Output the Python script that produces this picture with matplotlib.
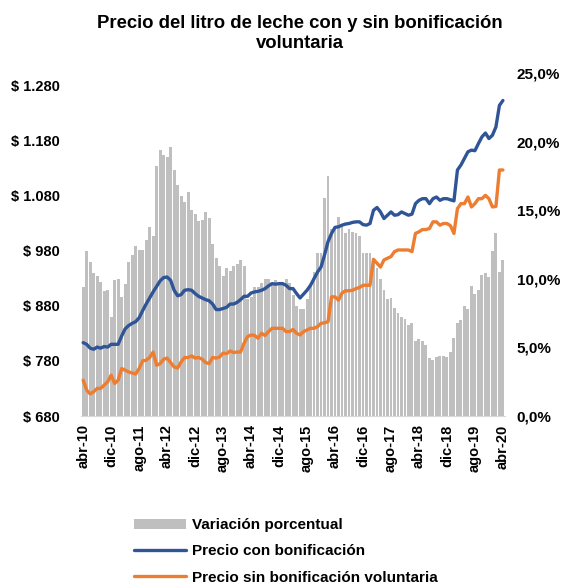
import numpy as np
import matplotlib.pyplot as plt

plt.rcParams['font.family'] = ['Liberation Sans', 'DejaVu Sans']

# monthly series, abr-10 .. abr-20
variacion = [
    9.4, 12.0, 11.2, 10.4, 10.2, 9.8, 9.1, 9.2, 7.2, 9.9,
    10.0, 8.7, 9.6, 11.2, 11.7, 12.4, 12.1, 12.1, 12.8, 13.8,
    13.1, 18.2, 19.4, 19.0, 18.9, 19.6, 17.9, 16.8, 16.0, 15.6,
    16.3, 15.0, 14.7, 14.2, 14.3, 14.9, 14.4, 12.5, 11.5, 10.9,
    10.2, 10.8, 10.6, 10.9, 11.1, 11.4, 10.9, 8.5, 8.7, 9.4,
    9.4, 9.7, 10.0, 10.0, 9.7, 9.9, 9.8, 9.7, 10.0, 9.7,
    8.8, 8.0, 7.8, 7.8, 8.5, 9.5, 10.5, 11.9, 11.9, 15.9,
    17.5, 13.6, 13.8, 14.5, 14.0, 13.3, 13.6, 13.4, 13.3, 13.1,
    11.9, 11.9, 11.9, 11.4, 10.8, 10.0, 9.2, 8.5, 8.6, 7.9,
    7.5, 7.2, 7.1, 6.6, 6.8, 5.5, 5.6, 5.5, 5.2, 4.2,
    4.1, 4.3, 4.4, 4.4, 4.3, 4.7, 5.7, 6.8, 7.0, 8.0,
    7.8, 9.5, 8.9, 9.2, 10.3, 10.4, 10.1, 12.0, 13.3, 10.5,
    11.4,
]

con_bonif = [
    813, 810, 803, 801, 805, 803, 806, 805, 810, 810,
    810, 825, 838, 844, 848, 851, 858, 871, 883, 894,
    905, 915, 925, 931, 932, 926, 908, 898, 900, 908,
    909, 908, 902, 897, 894, 891, 889, 883, 873, 873,
    875, 877, 883, 883, 886, 891, 897, 897, 903, 905,
    906, 908, 911, 916, 920, 919, 920, 920, 917, 911,
    911, 902, 894, 901, 908, 917, 929, 941, 950, 972,
    996, 1011, 1022, 1023, 1026, 1028, 1029, 1031, 1032, 1032,
    1027, 1026, 1029, 1053, 1058, 1050, 1038, 1044, 1050, 1044,
    1045, 1050, 1047, 1044, 1046, 1065, 1071, 1074, 1074, 1065,
    1074, 1077, 1071, 1074, 1074, 1072, 1070, 1126, 1135, 1147,
    1159, 1162, 1161, 1174, 1186, 1193, 1183, 1189, 1204, 1243,
    1252,
]

sin_bonif = [
    745, 727, 720, 724, 730, 730, 736, 742, 754, 739,
    745, 766, 763, 760, 758, 756, 766, 780, 781, 786,
    796, 772, 775, 783, 785, 777, 769, 767, 778, 786,
    786, 789, 785, 786, 783, 777, 775, 786, 785, 787,
    794, 793, 798, 795, 796, 796, 812, 824, 827, 826,
    821, 830, 826, 833, 839, 839, 839, 839, 833, 833,
    837, 830, 827, 833, 836, 839, 839, 842, 848, 849,
    851, 896, 896, 890, 903, 907, 907, 908, 911, 913,
    917, 917, 917, 964, 957, 950, 963, 966, 969, 978,
    981, 981, 981, 981, 978, 1011, 1014, 1018, 1018, 1020,
    1032, 1032, 1026, 1029, 1029, 1025, 1011, 1056, 1065, 1065,
    1077, 1059, 1065, 1074, 1074, 1080, 1074, 1059, 1060, 1126,
    1126,
]

tick_labels = ['abr-10', 'dic-10', 'ago-11', 'abr-12', 'dic-12', 'ago-13',
               'abr-14', 'dic-14', 'ago-15', 'abr-16', 'dic-16', 'ago-17',
               'abr-18', 'dic-18', 'ago-19', 'abr-20']
price_ticks = [680, 780, 880, 980, 1080, 1180, 1280]
pct_ticks = [0, 5, 10, 15, 20, 25]

x = np.arange(len(variacion))

fig = plt.figure(figsize=(5.63, 5.88), dpi=100)
ax = fig.add_axes([0.144, 0.2925, 0.753, 0.5835])
ax2 = ax.twinx()

bars = ax2.bar(x, variacion, width=0.84, color='#BFBFBF', label='Variación porcentual')
l1, = ax.plot(x, con_bonif, color='#2F5597', lw=2.4, label='Precio con bonificación',
              solid_capstyle='round')
l2, = ax.plot(x, sin_bonif, color='#ED7D31', lw=2.4, label='Precio sin bonificación voluntaria',
              solid_capstyle='round')

ax.set_zorder(ax2.get_zorder() + 1)
ax.patch.set_visible(False)

ax.set_xlim(-0.6, len(x) - 0.4)
ax.set_ylim(680, 1302)
ax2.set_ylim(0, 25)

ax.set_yticks(price_ticks)
ax.set_yticklabels(['$ ' + f'{v:,}'.replace(',', '.') for v in price_ticks],
                   fontweight='bold', fontsize=10.5)
ax2.set_yticks(pct_ticks)
ax2.set_yticklabels([f'{v:.1f}%'.replace('.', ',') for v in pct_ticks],
                    fontweight='bold', fontsize=11)
ax.set_xticks(x[::8])
ax.set_xticklabels(tick_labels, rotation=90, fontweight='bold', fontsize=10.5)

for a in (ax, ax2):
    for s in a.spines.values():
        s.set_visible(False)
    a.tick_params(length=0)
ax2.spines['bottom'].set_visible(True)
ax2.spines['bottom'].set_color('#D9D9D9')
ax.tick_params(axis='y', pad=15)
ax2.tick_params(axis='y', pad=8.5)
ax.tick_params(axis='x', pad=6)

fig.text(0.533, 0.943, 'Precio del litro de leche con y sin bonificación\nvoluntaria',
         ha='center', va='center', fontsize=13.3, fontweight='bold', linespacing=1.24)

fig.legend(handles=[bars, l1, l2], loc='upper left', bbox_to_anchor=(0.228, 0.129),
           frameon=False, prop={'weight': 'bold', 'size': 11}, handlelength=3.4,
           handletextpad=0.35, labelspacing=0.8, borderaxespad=0)

fig.savefig('out.png', dpi=100)
